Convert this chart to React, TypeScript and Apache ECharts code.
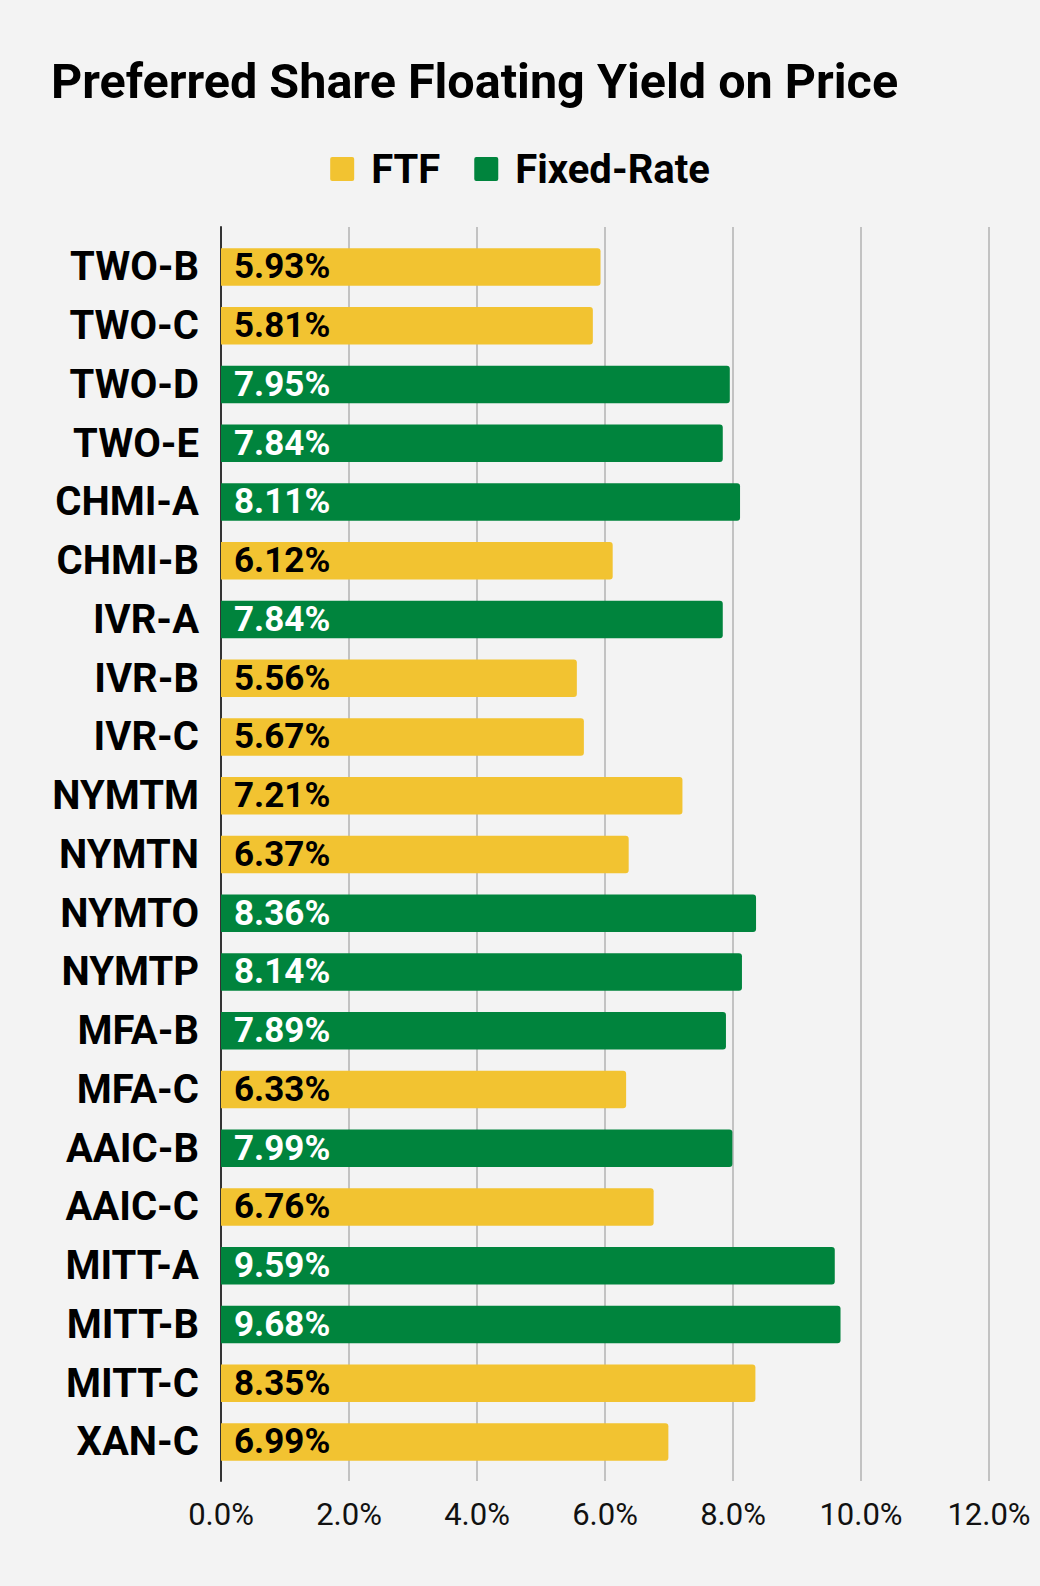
import React, { useEffect, useRef } from "react";
import * as echarts from "echarts";

const categories = [
  "TWO-B", "TWO-C", "TWO-D", "TWO-E", "CHMI-A", "CHMI-B", "IVR-A", "IVR-B", "IVR-C",
  "NYMTM", "NYMTN", "NYMTO", "NYMTP", "MFA-B", "MFA-C", "AAIC-B", "AAIC-C",
  "MITT-A", "MITT-B", "MITT-C", "XAN-C",
];
const yields = [
  5.93, 5.81, 7.95, 7.84, 8.11, 6.12, 7.84, 5.56, 5.67,
  7.21, 6.37, 8.36, 8.14, 7.89, 6.33, 7.99, 6.76,
  9.59, 9.68, 8.35, 6.99,
];
const types = [
  "FTF", "FTF", "Fixed-Rate", "Fixed-Rate", "Fixed-Rate", "FTF", "Fixed-Rate", "FTF", "FTF",
  "FTF", "FTF", "Fixed-Rate", "Fixed-Rate", "Fixed-Rate", "FTF", "Fixed-Rate", "FTF",
  "Fixed-Rate", "Fixed-Rate", "FTF", "FTF",
];
const seriesNames = ["FTF", "Fixed-Rate"];
const xTicks = [0, 2, 4, 6, 8, 10, 12];
const titleText = "Preferred Share Floating Yield on Price";

const YELLOW = "#F2C331";
const GREEN = "#00843D";
const BG = "#F3F3F3";
const FONT = "Roboto";
const LEGEND_ICON =
  "path://M2,0 H22 Q24,0 24,2 V22 Q24,24 22,24 H2 Q0,24 0,22 V2 Q0,0 2,0 Z";

export default function App() {
  const ref = useRef<HTMLDivElement>(null);
  useEffect(() => {
    document.body.style.margin = "0";
    if (!ref.current) return;
    const chart = echarts.init(ref.current, undefined, { renderer: "svg" });
    const mk = (name: string) =>
      yields.map((v, i) => (types[i] === name ? v : "-"));
    const option: any = {
      animation: false,
      backgroundColor: BG,
      textStyle: { fontFamily: FONT },
      graphic: [
        {
          type: "text",
          left: 51,
          top: 57,
          style: {
            text: titleText,
            font: `bold 48.5px ${FONT}`,
            fill: "#000",
          },
        },
      ],
      legend: {
        data: seriesNames,
        left: "center",
        top: 144,
        itemWidth: 24,
        itemHeight: 24,
        itemGap: 34,
        icon: LEGEND_ICON,
        textStyle: {
          fontFamily: FONT,
          fontSize: 40,
          fontWeight: "bold",
          color: "#000",
          padding: [0, 0, 0, 12],
        },
      },
      grid: [
        { left: 221, right: 51, top: 237.5, height: 1233.75 },
        { left: 221, right: 51, top: 227, bottom: 105 },
      ],
      xAxis: [
        { gridIndex: 0, type: "value", min: 0, max: 12, show: false },
        {
          gridIndex: 1,
          type: "value",
          min: xTicks[0],
          max: xTicks[xTicks.length - 1],
          interval: 2,
          axisLine: { show: false },
          axisTick: { show: false },
          splitLine: { show: true, lineStyle: { color: "#C2C2C2", width: 2 } },
          axisLabel: {
            fontFamily: FONT,
            fontSize: 31,
            color: "#111",
            margin: 18,
            formatter: (v: number) => v.toFixed(1) + "%",
          },
        },
      ],
      yAxis: [
        {
          gridIndex: 0,
          type: "category",
          data: categories,
          inverse: true,
          axisLine: { show: false },
          axisTick: { show: false },
          axisLabel: {
            fontFamily: FONT,
            fontSize: 40,
            fontWeight: "bold",
            color: "#000",
            margin: 22,
          },
        },
        {
          gridIndex: 1,
          type: "value",
          min: 0,
          max: 1,
          axisLine: { show: true, lineStyle: { color: "#333", width: 2 } },
          axisTick: { show: false },
          axisLabel: { show: false },
          splitLine: { show: false },
        },
      ],
      series: seriesNames.map((name) => ({
        name,
        type: "bar",
        stack: "all",
        xAxisIndex: 0,
        yAxisIndex: 0,
        barWidth: 37.5,
        data: mk(name),
        itemStyle: {
          color: name === "FTF" ? YELLOW : GREEN,
          borderRadius: [0, 3, 3, 0],
        },
        label: {
          show: true,
          position: "insideLeft",
          distance: 13,
          fontFamily: FONT,
          fontSize: 35,
          fontWeight: "bold",
          color: name === "FTF" ? "#000" : "#fff",
          formatter: (p: any) => p.value.toFixed(2) + "%",
        },
      })),
    };
    chart.setOption(option);
    return () => chart.dispose();
  }, []);
  return <div ref={ref} style={{ width: 1040, height: 1586 }} />;
}
